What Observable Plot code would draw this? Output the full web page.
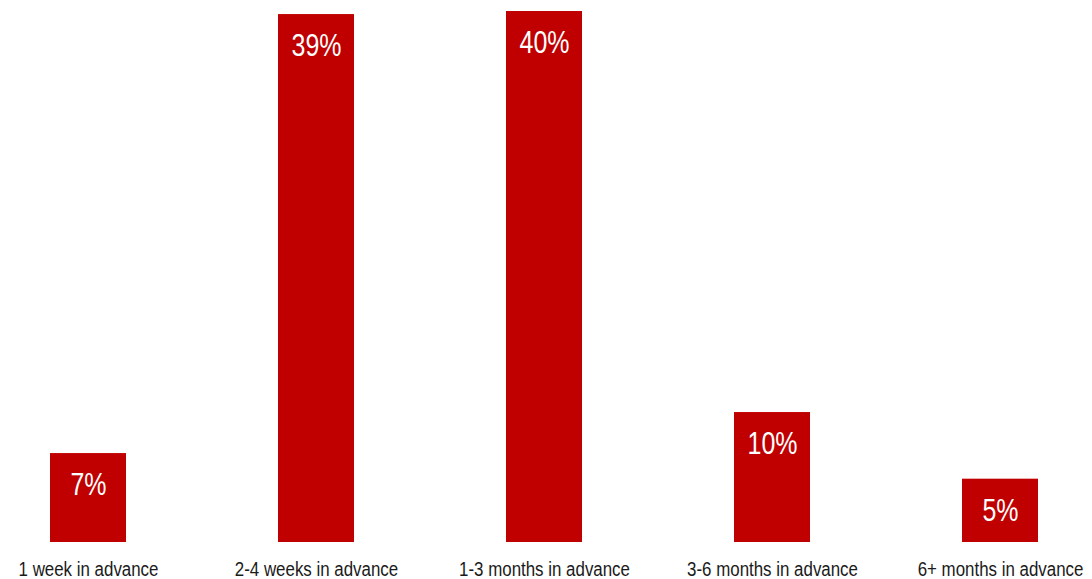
<!DOCTYPE html>
<html>
<head>
<meta charset="utf-8">
<script src="https://cdn.jsdelivr.net/npm/d3@7"></script>
<script src="https://cdn.jsdelivr.net/npm/@observablehq/plot@0.6"></script>
<style>
  html, body { margin: 0; padding: 0; background: #ffffff; }
  #chart svg { display: block; }
</style>
</head>
<body>
<div id="chart"></div>
<script>
const categories = ["1 week in advance", "2-4 weeks in advance", "1-3 months in advance", "3-6 months in advance", "6+ months in advance"];
const values = [6.7, 39.77, 40, 9.79, 4.77];
const valueLabels = ["7%", "39%", "40%", "10%", "5%"];

const data = categories.map((c, i) => ({category: c, value: values[i], label: valueLabels[i]}));
const font = "'Liberation Sans Narrow', 'Arial Narrow', 'Liberation Sans', Arial, sans-serif";

const chart = Plot.plot({
  width: 1092,
  height: 579,
  marginLeft: 3,
  marginRight: 7,
  marginTop: 11,
  marginBottom: 37,
  style: {fontFamily: font, background: "#ffffff", overflow: "visible"},
  x: {domain: categories, paddingInner: 0.667, paddingOuter: 0.2, label: null},
  y: {domain: [0, 40], axis: null},
  marks: [
    Plot.barY(data, {x: "category", y: "value", fill: "#c00000"}),
    Plot.text(data, {x: "category", y: "value", text: "label", fill: "#ffffff", fontSize: 32, lineAnchor: "top", dy: 19, className: "vlabel"}),
    Plot.axisX({tickSize: 0, tickPadding: 19, fontSize: 21, fill: "#1a1a1a", label: null})
  ]
});
document.getElementById("chart").appendChild(chart);

// Condense the text horizontally to mimic the narrow typeface of the original
chart.querySelectorAll("text").forEach((t) => {
  const isValue = t.closest(".vlabel") !== null;
  const k = isValue ? 0.78 : 0.805;
  const tr = t.getAttribute("transform");
  const xAttr = t.getAttribute("x");
  if (tr && (!xAttr || +xAttr === 0)) {
    t.setAttribute("transform", tr + ` scale(${k},1)`);
  } else {
    const len = t.getComputedTextLength();
    if (len > 0) {
      t.setAttribute("textLength", (len * k).toFixed(1));
      t.setAttribute("lengthAdjust", "spacingAndGlyphs");
    }
  }
});
</script>
</body>
</html>
